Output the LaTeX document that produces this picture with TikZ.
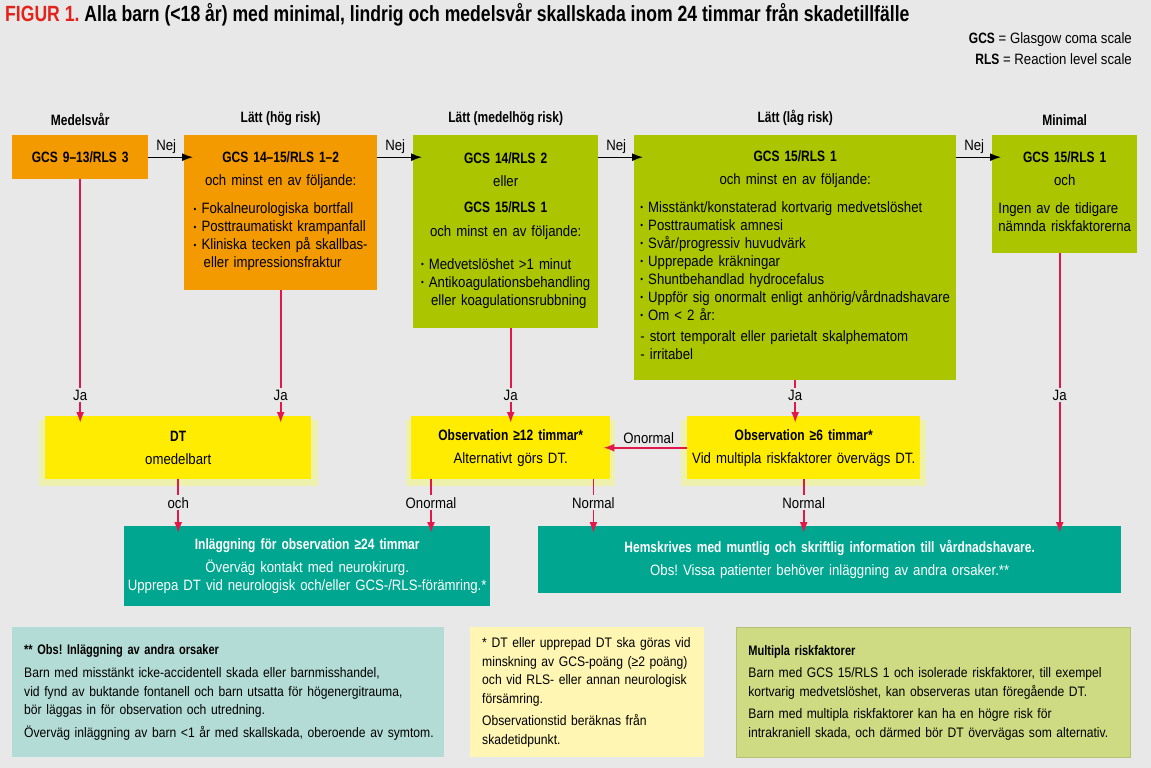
\documentclass[tikz,border=0pt]{standalone}
\usepackage{fontspec}
\setmainfont{Liberation Sans}[FakeStretch=0.88,BoldFeatures={FakeStretch=0.8}]
\usetikzlibrary{arrows.meta,calc,positioning,shadows}
\frenchspacing
\definecolor{FlowBg}{HTML}{E8E8E8}
\definecolor{FlowOrange}{HTML}{F39A00}
\definecolor{FlowLime}{HTML}{ABC600}
\definecolor{FlowYellow}{HTML}{FFEC00}
\definecolor{FlowYellowEdge}{HTML}{EEF0AE}
\definecolor{FlowTeal}{HTML}{00A690}
\definecolor{FlowRed}{HTML}{E2184B}
\definecolor{FlowTitleRed}{HTML}{E3231B}
\definecolor{NoteTeal}{HTML}{B4DCD6}
\definecolor{NoteYellow}{HTML}{FFF6B4}
\definecolor{NoteLime}{HTML}{CEDB82}
\newcommand\flowfont{\fontsize{15}{18}\selectfont}
\newcommand\notefont{\fontsize{13.8}{18.5}\selectfont}
\newcommand\flowbullet{{\fontsize{9}{9}\selectfont\raisebox{1.5pt}{\textbullet}}\ }
\tikzset{
  flowbox/.style={anchor=north west,inner xsep=0pt,inner ysep=0pt,align=center,font=\flowfont},
  riskhigh/.style={flowbox,fill=FlowOrange},
  risklow/.style={flowbox,fill=FlowLime},
  obsbox/.style={flowbox,fill=FlowYellow,drop shadow={shadow xshift=0pt,shadow yshift=-5pt,shadow scale=1.05,fill=FlowYellowEdge,opacity=1}},
  outbox/.style={flowbox,fill=FlowTeal,text=white},
  notebox/.style={anchor=north west,inner xsep=12pt,inner ysep=0pt,minimum height=130pt,align=left,font=\notefont},
  colhead/.style={font=\flowfont\bfseries},
  nejarrow/.style={-{Latex[length=11pt,width=8pt]},line width=1.4pt,draw=black,shorten >=-9pt},
  jaarrow/.style={-{Latex[length=11pt,width=8pt]},line width=1.8pt,draw=FlowRed,shorten >=-7pt},
  edgelbl/.style={fill=FlowBg,inner sep=2pt,font=\flowfont}
}
\begin{document}
\begin{tikzpicture}[x=1pt,y=-1pt]
  \useasboundingbox (0,0) rectangle (1151,768);
  \fill[FlowBg] (0,0) rectangle (1151,768);

  \node[anchor=base west,inner sep=0pt,font=\fontsize{22}{26}\selectfont\bfseries] (title) at (5,22)
    {\textcolor{FlowTitleRed}{FIGUR 1.} Alla barn (<18 år) med minimal, lindrig och medelsvår skallskada inom 24 timmar från skadetillfälle};
  \node[anchor=base east,inner sep=0pt,font=\flowfont] (gcslegend) at (1132,44) {\textbf{GCS} = Glasgow coma scale};
  \node[anchor=base east,inner sep=0pt,font=\flowfont] (rlslegend) at (1132,65) {\textbf{RLS} = Reaction level scale};

  \node[riskhigh,text width=136pt,minimum height=44pt] (medel) at (12,135) {\textbf{GCS 9–13/RLS 3}};
  \node[riskhigh,text width=193pt,minimum height=155pt] (hoeg) at (184,135)
    {\textbf{GCS 14–15/RLS 1–2}\\[5pt]
     och minst en av följande:\\[10pt]
     \begin{tabular}[t]{@{}l@{}}
       \flowbullet Fokalneurologiska bortfall\\
       \flowbullet Posttraumatiskt krampanfall\\
       \flowbullet Kliniska tecken på skallbas-\\
       \ \ eller impressionsfraktur
     \end{tabular}};
  \node[risklow,text width=185pt,minimum height=193pt] (medhoeg) at (413,135)
    {\textbf{GCS 14/RLS 2}\\[5pt]
     eller\\[8pt]
     \textbf{GCS 15/RLS 1}\\[6pt]
     och minst en av följande:\\[15pt]
     \begin{tabular}[t]{@{}l@{}}
       \flowbullet Medvetslöshet >1 minut\\
       \flowbullet Antikoagulationsbehandling\\
       \ \ eller koagulationsrubbning
     \end{tabular}};
  \node[risklow,text width=322pt,minimum height=245pt] (laag) at (634,135)
    {\textbf{GCS 15/RLS 1}\\[5pt]
     och minst en av följande:\\[10pt]
     \begin{tabular}[t]{@{}l@{}}
       \flowbullet Misstänkt/konstaterad kortvarig medvetslöshet\\
       \flowbullet Posttraumatisk amnesi\\
       \flowbullet Svår/progressiv huvudvärk\\
       \flowbullet Upprepade kräkningar\\
       \flowbullet Shuntbehandlad hydrocefalus\\
       \flowbullet Uppför sig onormalt enligt anhörig/vårdnadshavare\\
       \flowbullet Om < 2 år:\\[3pt]
       - stort temporalt eller parietalt skalphematom\\
       - irritabel
     \end{tabular}};
  \node[risklow,text width=145pt,minimum height=118pt] (minimal) at (992,135)
    {\textbf{GCS 15/RLS 1}\\[5pt]
     och\\[10pt]
     \begin{tabular}[t]{@{}l@{}}
       Ingen av de tidigare\\
       nämnda riskfaktorerna
     \end{tabular}};

  \node[colhead,above=6pt of medel] (hdmedel) {Medelsvår};
  \node[colhead,above=6pt of hoeg] (hdhoeg) {Lätt (hög risk)};
  \node[colhead,above=6pt of medhoeg] (hdmedhoeg) {Lätt (medelhög risk)};
  \node[colhead,above=6pt of laag] (hdlaag) {Lätt (låg risk)};
  \node[colhead,above=6pt of minimal] (hdminimal) {Minimal};

  \node[obsbox,text width=266pt,minimum height=63pt] (dt) at (45,416) {\textbf{DT}\\[5pt] omedelbart};
  \node[obsbox,text width=199pt,minimum height=63pt] (obstolv) at (411,416)
    {\textbf{Observation ≥12 timmar*}\\[5pt] Alternativt görs DT.};
  \node[obsbox,text width=233pt,minimum height=63pt] (obssex) at (687,416)
    {\textbf{Observation ≥6 timmar*}\\[5pt] Vid multipla riskfaktorer övervägs DT.};

  \node[outbox,text width=366pt,minimum height=80pt] (inl) at (124,526)
    {\textbf{Inläggning för observation ≥24 timmar}\\[5pt]
     Överväg kontakt med neurokirurg.\\
     Upprepa DT vid neurologisk och/eller GCS-/RLS-förämring.*};
  \node[outbox,text width=583pt,minimum height=67pt] (hem) at (538,526)
    {\textbf{Hemskrives med muntlig och skriftlig information till vårdnadshavare.}\\[5pt]
     Obs! Vissa patienter behöver inläggning av andra orsaker.**};

  \coordinate (jarow) at (0,395);
  \draw[nejarrow] (medel.east) -- (medel.east -| hoeg.west) node[midway,above,font=\flowfont] {Nej};
  \draw[nejarrow] (hoeg.north east |- medel.east) -- (medhoeg.west |- medel.east) node[midway,above,font=\flowfont] {Nej};
  \draw[nejarrow] (medhoeg.north east |- medel.east) -- (laag.west |- medel.east) node[midway,above,font=\flowfont] {Nej};
  \draw[nejarrow] (laag.north east |- medel.east) -- (minimal.west |- medel.east) node[midway,above,font=\flowfont] {Nej};

  \draw[jaarrow] (medel.south) -- (medel.south |- jarow) node[edgelbl] {Ja} -- (medel.south |- dt.north);
  \draw[jaarrow] (hoeg.south) -- (hoeg.south |- jarow) node[edgelbl] {Ja} -- (hoeg.south |- dt.north);
  \draw[jaarrow] ([xshift=5pt]medhoeg.south) coordinate (mhout) -- (mhout |- jarow) node[edgelbl] {Ja} -- (mhout |- obstolv.north);
  \draw[jaarrow] (laag.south) -- (laag.south |- jarow) node[edgelbl] {Ja} -- (laag.south |- obssex.north);
  \draw[jaarrow] ([xshift=-5pt]minimal.south) coordinate (minout) -- (minout |- jarow) node[edgelbl] {Ja} -- (minout |- hem.north);

  \draw[jaarrow] (obssex.west) -- (obstolv.east) node[midway,above,font=\flowfont] {Onormal};
  \draw[jaarrow] (dt.south) -- (dt.south |- inl.north) node[midway,edgelbl] {och};
  \draw[jaarrow] ([xshift=20pt]obstolv.south west) coordinate (tolvout) -- (tolvout |- inl.north) node[midway,edgelbl] {Onormal};
  \draw[jaarrow] ([xshift=-17pt]obstolv.south east) coordinate (tolvhem) -- (tolvhem |- hem.north) node[midway,edgelbl] {Normal};
  \draw[jaarrow] (obssex.south) -- (obssex.south |- hem.north) node[midway,edgelbl] {Normal};

  \node[notebox,fill=NoteTeal,text width=408pt] (obsnote) at (12,627)
    {\begin{tabular}{@{}l@{}}
       \textbf{** Obs! Inläggning av andra orsaker}\\[5pt]
       Barn med misstänkt icke-accidentell skada eller barnmisshandel,\\
       vid fynd av buktande fontanell och barn utsatta för högenergitrauma,\\
       bör läggas in för observation och utredning.\\[4pt]
       Överväg inläggning av barn <1 år med skallskada, oberoende av symtom.
     \end{tabular}};
  \node[notebox,fill=NoteYellow,text width=210pt] (dtnote) at (470,627)
    {\begin{tabular}{@{}l@{}}
       * DT eller upprepad DT ska göras vid\\
       minskning av GCS-poäng (≥2 poäng)\\
       och vid RLS- eller annan neurologisk\\
       försämring.\\[4pt]
       Observationstid beräknas från\\
       skadetidpunkt.
     \end{tabular}};
  \node[notebox,fill=NoteLime,draw=NoteLime!88!black,line width=0.8pt,text width=370pt] (multinote) at (736,627)
    {\begin{tabular}{@{}l@{}}
       \textbf{Multipla riskfaktorer}\\[4pt]
       Barn med GCS 15/RLS 1 och isolerade riskfaktorer, till exempel\\
       kortvarig medvetslöshet, kan observeras utan föregående DT.\\[4pt]
       Barn med multipla riskfaktorer kan ha en högre risk för\\
       intrakraniell skada, och därmed bör DT övervägas som alternativ.
     \end{tabular}};
\end{tikzpicture}
\end{document}
